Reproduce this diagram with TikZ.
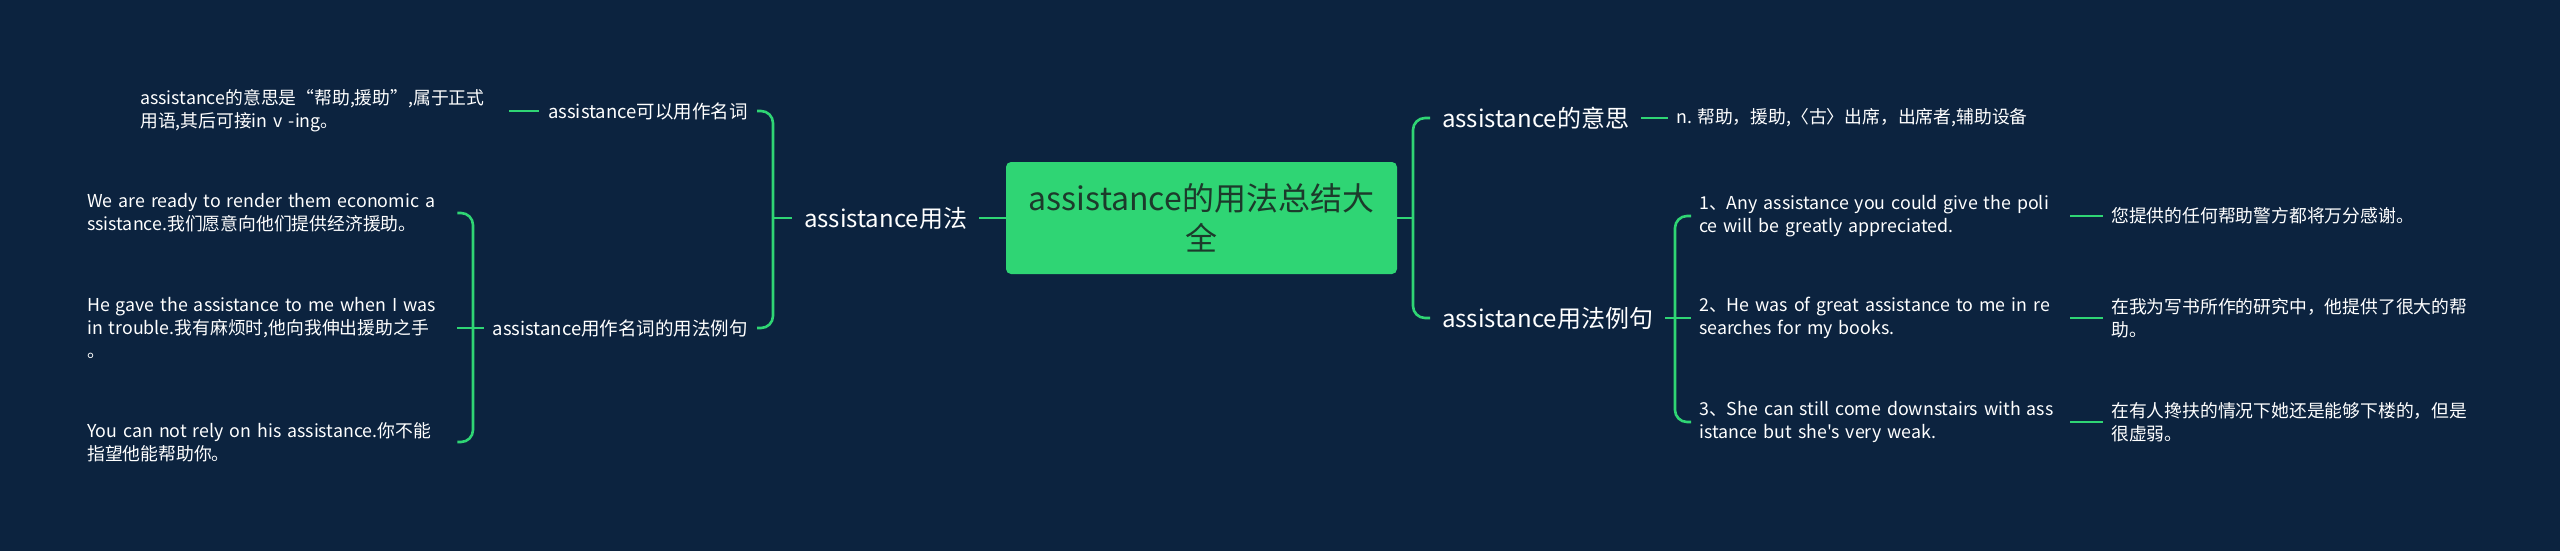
\documentclass[tikz,border=0pt]{standalone}
\usepackage{fontspec}
\setmainfont{Noto Sans CJK SC}[Ligatures=TeXOff]
\usepackage{tikz}

\definecolor{mmbg}{HTML}{0C233F}
\definecolor{mmgreen}{HTML}{2FD574}
\definecolor{mmink}{HTML}{1C3A2B}

\begin{document}
\begin{tikzpicture}[
  x=1pt, y=-1pt,
  root/.style={rounded corners=5pt, fill=mmgreen, text=mmink, align=center, minimum width=391pt, minimum height=112pt, font=\fontsize{32}{40}\selectfont},
  topic/.style={text=white, inner xsep=12pt, font=\fontsize{24}{30}\selectfont},
  sub/.style={text=white, inner xsep=9pt, font=\fontsize{18.5}{23}\selectfont},
  leaf/.style={text=white, align=left, inner xsep=8pt, font=\fontsize{17.8}{23}\selectfont},
  link/.style={draw=mmgreen, line width=2.6pt},
  brace/.style={link, rounded corners=12pt}
]

\fill[mmbg] (0,0) rectangle (2560,551);
\useasboundingbox (0,0) rectangle (2560,551);

\node[root] (root) at (1201.5,218) {assistance的用法总结大\\全};

% left side
\node[topic, anchor=west] (usage) at (792,218) {assistance用法};
\node[sub, anchor=east] (noun) at (757,111) {assistance可以用作名词};
\node[sub, anchor=east] (nounex) at (757,328) {assistance用作名词的用法例句};

\node[leaf, anchor=west, text width=361pt] (nounmean) at (132,111) {assistance的意思是“帮助,援助”,属于正式\\用语,其后可接in v -ing。};

\node[leaf, anchor=west, text width=362pt] (ex1) at (79,213) {We are ready to render them economic a\\ssistance.我们愿意向他们提供经济援助。};
\node[leaf, anchor=west, text width=362pt] (ex2) at (79,328) {He gave the assistance to me when I was\\in trouble.我有麻烦时,他向我伸出援助之手\\。};
\node[leaf, anchor=west, text width=362pt] (ex3) at (79,442) {You can not rely on his assistance.你不能\\指望他能帮助你。};

% right side
\node[topic, anchor=west] (meaning) at (1430,118) {assistance的意思};
\node[topic, anchor=west] (examples) at (1430,318) {assistance用法例句};

\node[leaf, anchor=west] (mdef) at (1668,118) {n. 帮助，援助,〈古〉出席，出席者,辅助设备};

\node[leaf, anchor=west, text width=363pt] (s1) at (1691,216) {1、Any assistance you could give the poli\\ce will be greatly appreciated.};
\node[leaf, anchor=west, text width=363pt] (s2) at (1691,318) {2、He was of great assistance to me in re\\searches for my books.};
\node[leaf, anchor=west, text width=363pt] (s3) at (1691,422) {3、She can still come downstairs with ass\\istance but she's very weak.};

\node[leaf, anchor=west, text width=365pt] (t1) at (2103,216) {您提供的任何帮助警方都将万分感谢。};
\node[leaf, anchor=west, text width=365pt] (t2) at (2103,318) {在我为写书所作的研究中，他提供了很大的帮\\助。};
\node[leaf, anchor=west, text width=365pt] (t3) at (2103,422) {在有人搀扶的情况下她还是能够下楼的，但是\\很虚弱。};

% bracket hubs
\coordinate (lhub) at (773,218);
\coordinate (lhubex) at (473,328);
\coordinate (rhub) at (1413,218);
\coordinate (rhubex) at (1675,318);

% connectors
\draw[link] (usage.east) -- (root.west);
\draw[link] (lhub) -- (usage.west);
\draw[brace] (noun.east) -| (lhub) |- (nounex.east);
\draw[link] (nounmean.east) -- (noun.west);
\draw[brace] (ex1.east) -| (lhubex) |- (ex3.east);
\draw[link] (ex2.east) -- (nounex.west);

\draw[link] (root.east) -- (rhub);
\draw[brace] (meaning.west) -| (rhub) |- (examples.west);
\draw[link] (meaning.east) -- (mdef.west);
\draw[brace] (s1.west) -| (rhubex) |- (s3.west);
\draw[link] (examples.east) -- (s2.west);
\draw[link] (s1.east) -- (t1.west);
\draw[link] (s2.east) -- (t2.west);
\draw[link] (s3.east) -- (t3.west);

\end{tikzpicture}
\end{document}
